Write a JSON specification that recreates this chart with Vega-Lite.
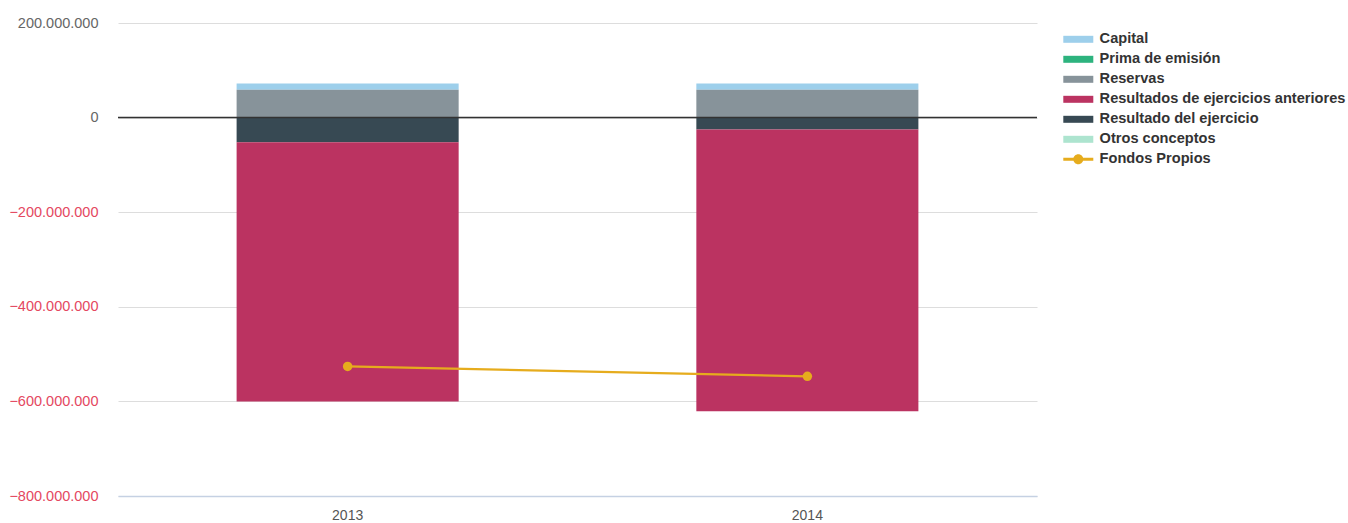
{
  "$schema": "https://vega.github.io/schema/vega-lite/v6.json",
  "width": 919,
  "height": 473,
  "autosize": {"type": "none"},
  "padding": {"left": 118, "top": 23, "right": 311, "bottom": 27},
  "config": {
    "view": {"stroke": null},
    "font": "Liberation Sans",
    "locale": {"number": {"decimal": ",", "thousands": ".", "grouping": [3], "currency": ["", " €"]}}
  },
  "data": {
    "values": [
      {"anio": "2013", "serie": "Capital", "valor": 13000000},
      {"anio": "2013", "serie": "Reservas", "valor": 59000000},
      {"anio": "2013", "serie": "Resultado del ejercicio", "valor": -52000000},
      {"anio": "2013", "serie": "Resultados de ejercicios anteriores", "valor": -548000000},
      {"anio": "2013", "serie": "Fondos Propios", "valor": -526000000},
      {"anio": "2014", "serie": "Capital", "valor": 13000000},
      {"anio": "2014", "serie": "Reservas", "valor": 59000000},
      {"anio": "2014", "serie": "Resultado del ejercicio", "valor": -25000000},
      {"anio": "2014", "serie": "Resultados de ejercicios anteriores", "valor": -596000000},
      {"anio": "2014", "serie": "Fondos Propios", "valor": -547000000}
    ]
  },
  "encoding": {
    "x": {
      "field": "anio",
      "type": "nominal",
      "scale": {"paddingInner": 0.517, "paddingOuter": 0.258},
      "axis": {
        "title": null,
        "labelAngle": 0,
        "labelFontSize": 14,
        "labelColor": "#555",
        "labelPadding": 12,
        "ticks": false,
        "domainColor": "#c5d1e3",
        "domainWidth": 1.5
      }
    }
  },
  "layer": [
    {
      "transform": [{"filter": "datum.serie !== 'Fondos Propios'"}],
      "mark": {"type": "bar"},
      "encoding": {
        "y": {
          "field": "valor",
          "type": "quantitative",
          "stack": "zero",
          "scale": {"domain": [-800000000, 200000000], "nice": false},
          "axis": {
            "title": null,
            "values": [-800000000, -600000000, -400000000, -200000000, 0, 200000000],
            "format": ",d",
            "labelFontSize": 14.5,
            "labelColor": {"condition": {"test": "datum.value < 0", "value": "#e4485f"}, "value": "#666"},
            "labelPadding": 20,
            "ticks": false,
            "domain": false,
            "gridColor": "#dddddd",
            "gridWidth": 1
          }
        },
        "color": {
          "field": "serie",
          "type": "nominal",
          "scale": {
            "domain": ["Capital", "Prima de emisión", "Reservas", "Resultados de ejercicios anteriores", "Resultado del ejercicio", "Otros conceptos", "Fondos Propios"],
            "range": ["#9dcfeb", "#2db37e", "#87939a", "#bb3361", "#374953", "#ade4cf", "#e6ac1d"]
          },
          "legend": {
            "title": null,
            "orient": "none",
            "legendX": 943,
            "legendY": 9,
            "padding": 0,
            "symbolSize": 100,
            "labelFont": "Liberation Sans",
            "labelFontSize": 14.6,
            "labelFontWeight": "bold",
            "labelColor": "#333",
            "labelOffset": 24,
            "rowPadding": 5,
            "labelLimit": 400,
            "encode": {
              "symbols": {
                "update": {
                  "shape": [
                    {"test": "datum.value === 'Fondos Propios'", "value": "M-1,-0.3H5V0.3H-1Z M1,0A1,1 0 1,1 3,0A1,1 0 1,1 1,0Z"},
                    {"value": "M-1,-0.7H5V0.7H-1Z"}
                  ]
                }
              }
            }
          }
        },
        "order": {"field": "valor", "type": "quantitative", "sort": "descending"}
      }
    },
    {
      "data": {"values": [{"cero": 0}]},
      "mark": {"type": "rule", "color": "#333", "strokeWidth": 1.5},
      "encoding": {"y": {"field": "cero", "type": "quantitative"}, "x": null}
    },
    {
      "transform": [{"filter": "datum.serie === 'Fondos Propios'"}],
      "mark": {"type": "line", "color": "#e6ac1d", "strokeWidth": 2.2, "point": {"filled": true, "size": 90, "color": "#e6ac1d"}},
      "encoding": {
        "y": {"field": "valor", "type": "quantitative"}
      }
    }
  ]
}
